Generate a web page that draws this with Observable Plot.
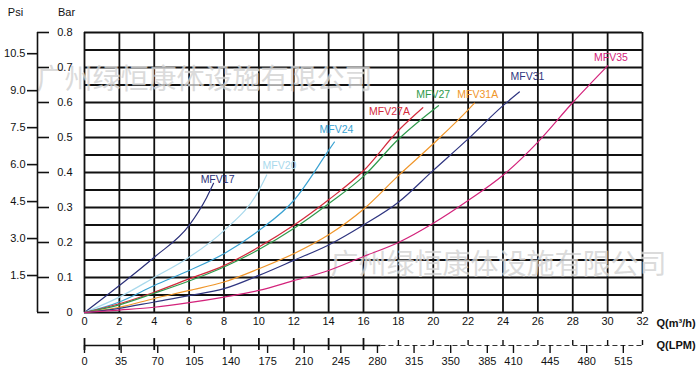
<!DOCTYPE html>
<html>
<head>
<meta charset="utf-8">
<script src="https://cdn.jsdelivr.net/npm/d3@7"></script>
<script src="https://cdn.jsdelivr.net/npm/@observablehq/plot@0.6"></script>
<style>
  html, body { margin: 0; padding: 0; background: #fff; }
  #chart svg { display: block; }
</style>
</head>
<body>
<div id="chart"></div>
<script>
// ---- data (Q in m³/h, pressure drop in bar) ----
const seriesNames = ["MFV17", "MFV20", "MFV24", "MFV27A", "MFV27", "MFV31A", "MFV31", "MFV35"];
const mfv17  = [[0,0],[2,0.077],[4,0.158],[6,0.249],[7,0.328],[7.4,0.369]];
const mfv20  = [[0,0],[2,0.044],[4,0.1],[6,0.158],[8,0.234],[10,0.349],[10.45,0.393]];
const mfv24  = [[0,0],[2,0.03],[4,0.077],[6,0.12],[8,0.168],[10,0.234],[12,0.32],[14,0.463],[14.33,0.487]];
const mfv27a = [[0,0],[2,0.025],[4,0.058],[6,0.096],[8,0.134],[10,0.187],[12,0.249],[14,0.322],[16,0.405],[18,0.52],[19.4,0.585]];
const mfv27  = [[0,0],[2,0.022],[4,0.055],[6,0.09],[8,0.13],[10,0.18],[12,0.24],[14,0.311],[16,0.389],[18,0.495],[20.3,0.591]];
const mfv31a = [[0,0],[2,0.015],[4,0.04],[6,0.063],[8,0.087],[10,0.125],[12,0.168],[14,0.222],[16,0.295],[18,0.391],[20,0.482],[22,0.579],[22.36,0.598]];
const mfv31  = [[0,0],[2,0.012],[4,0.03],[6,0.048],[8,0.068],[10,0.106],[12,0.149],[14,0.193],[16,0.25],[18,0.315],[20,0.406],[22,0.496],[24,0.591],[24.94,0.63]];
const mfv35  = [[0,0],[2,0.007],[4,0.015],[6,0.028],[8,0.044],[10,0.063],[12,0.091],[14,0.12],[16,0.16],[18,0.2],[20,0.255],[22,0.32],[24,0.392],[26,0.487],[28,0.6],[30,0.705]];
const seriesData = [mfv17, mfv20, mfv24, mfv27a, mfv27, mfv31a, mfv31, mfv35];

// curve label anchors (data units)
const labelQ   = [7.63, 11.18, 14.45, 17.49, 20.0, 22.55, 25.4, 30.19];
const labelBar = [0.379, 0.421, 0.523, 0.574, 0.623, 0.623, 0.674, 0.727];

// axes / ticks
const qTicks    = [0,2,4,6,8,10,12,14,16,18,20,22,24,26,28,30,32];
const barTicks  = [0,0.1,0.2,0.3,0.4,0.5,0.6,0.7,0.8];
const psiTicks  = [1.5,3.0,4.5,6.0,7.5,9.0,10.5];
const lpmTicks  = [0,35,70,105,140,175,210,245,280,315,350,385,410,445,480,515];
const watermark = "广州绿恒康体设施有限公司";

const PSI_PER_BAR = 14.2;       // as drawn on the chart's psi scale
const M3H_PER_LPM = 0.06;       // 1 L/min = 0.06 m³/h

// ---- build tables ----
const rows = seriesData.flatMap((s, i) => s.map(([q, bar]) => ({series: seriesNames[i], q, bar})));
const labels = seriesNames.map((name, i) => ({series: name, q: labelQ[i], bar: labelBar[i]}));
const gridY = d3.range(0, 17).map(i => i * 0.05);

const colors = ["#2a2f78", "#a9d9ec", "#3aa2d2", "#d42a3c", "#2f9a4c", "#f0962a", "#2f3580", "#d3237b"];
const font = "'Liberation Sans', Arial, sans-serif";
const wmStyle = {fontSize: 28, fontFamily: "'Noto Sans CJK SC', sans-serif", textAnchor: "middle", lineAnchor: "middle",
  fill: "#d2d2d2", fillOpacity: 0.8, stroke: "#fff", strokeOpacity: 0.4, strokeWidth: 1, style: "letter-spacing:1px"};

const chart = Plot.plot({
  width: 700,
  height: 373,
  marginLeft: 84,
  marginRight: 58,
  marginTop: 32,
  marginBottom: 61,
  x: {domain: [0, 32]},
  y: {domain: [0, 0.8]},
  color: {domain: seriesNames, range: colors},
  style: {fontFamily: font, fontSize: "11px", background: "#fff", color: "#111", overflow: "visible"},
  marks: [
    // grid
    Plot.ruleX(qTicks, {stroke: "#111", strokeWidth: 1.8}),
    Plot.ruleY(gridY, {stroke: "#111", strokeWidth: 1.8}),
    // watermark
    Plot.text([watermark], {frameAnchor: "top-left", dx: 120, dy: 48, ...wmStyle}),
    Plot.text([watermark], {frameAnchor: "bottom-right", dx: -144, dy: -47, ...wmStyle}),
    // curves
    Plot.line(rows, {x: "q", y: "bar", z: "series", stroke: "series", strokeWidth: 1.2, curve: "monotone-x"}),
    Plot.text(labels, {x: "q", y: "bar", text: "series", fill: "series", fontSize: 10.5}),
    // x axis (m³/h)
    Plot.axisX(qTicks, {anchor: "bottom", tickSize: 0, tickPadding: 5, label: null, fontSize: 11}),
    Plot.text(["Q(m³/h)"], {frameAnchor: "bottom-right", dx: 14, dy: 11, textAnchor: "start", lineAnchor: "middle", fontWeight: "bold", fontSize: 11}),
    // LPM axis
    Plot.ruleY([0], {x1: 0, x2: 17, dy: 33, stroke: "#111", strokeWidth: 1.4}),
    Plot.ruleY([0], {x1: 17, x2: 32, dy: 33, stroke: "#333", strokeWidth: 1.2, strokeDasharray: "5,3"}),
    Plot.axisX(qTicks.filter(d => d <= 16), {anchor: "bottom", tickSize: 12, dy: 26, strokeWidth: 1.8, tickFormat: () => "", label: null}),
    Plot.axisX(qTicks.filter(d => d > 16), {anchor: "bottom", tickSize: 5, dy: 28, strokeWidth: 1.4, tickFormat: () => "", label: null}),
    Plot.axisX(lpmTicks.map(v => v * M3H_PER_LPM), {anchor: "bottom", tickSize: 8, dy: 33, tickPadding: 4, strokeWidth: 1.4,
      tickFormat: d => String(Math.round(d / M3H_PER_LPM)), label: null, fontSize: 11}),
    Plot.text(["Q(LPM)"], {frameAnchor: "bottom-right", dx: 14, dy: 33, textAnchor: "start", lineAnchor: "middle", fontWeight: "bold", fontSize: 11}),
    // Bar axis
    Plot.axisY(barTicks, {anchor: "left", tickSize: 0, tickPadding: 12, label: null, fontSize: 11,
      tickFormat: d => d === 0 ? "0" : d.toFixed(1)}),
    Plot.axisY(barTicks, {anchor: "left", tickSize: 12, dx: -35, strokeWidth: 1.6, tickFormat: () => "", label: null}),
    Plot.ruleX([0], {y1: 0, y2: 0.8, dx: -47, stroke: "#111", strokeWidth: 1.6}),
    // Psi axis
    Plot.axisY(psiTicks.map(p => p / PSI_PER_BAR), {anchor: "left", tickSize: 10, tickPadding: 2, dx: -47, strokeWidth: 1.6,
      tickFormat: d => (d * PSI_PER_BAR).toFixed(1), label: null, fontSize: 11}),
    Plot.text(["Psi"], {frameAnchor: "top-left", dx: -69, dy: -20, textAnchor: "middle", lineAnchor: "middle", fontSize: 11}),
    Plot.text(["Bar"], {frameAnchor: "top-left", dx: -18, dy: -20, textAnchor: "middle", lineAnchor: "middle", fontSize: 11})
  ]
});
document.getElementById("chart").appendChild(chart);
</script>
</body>
</html>
